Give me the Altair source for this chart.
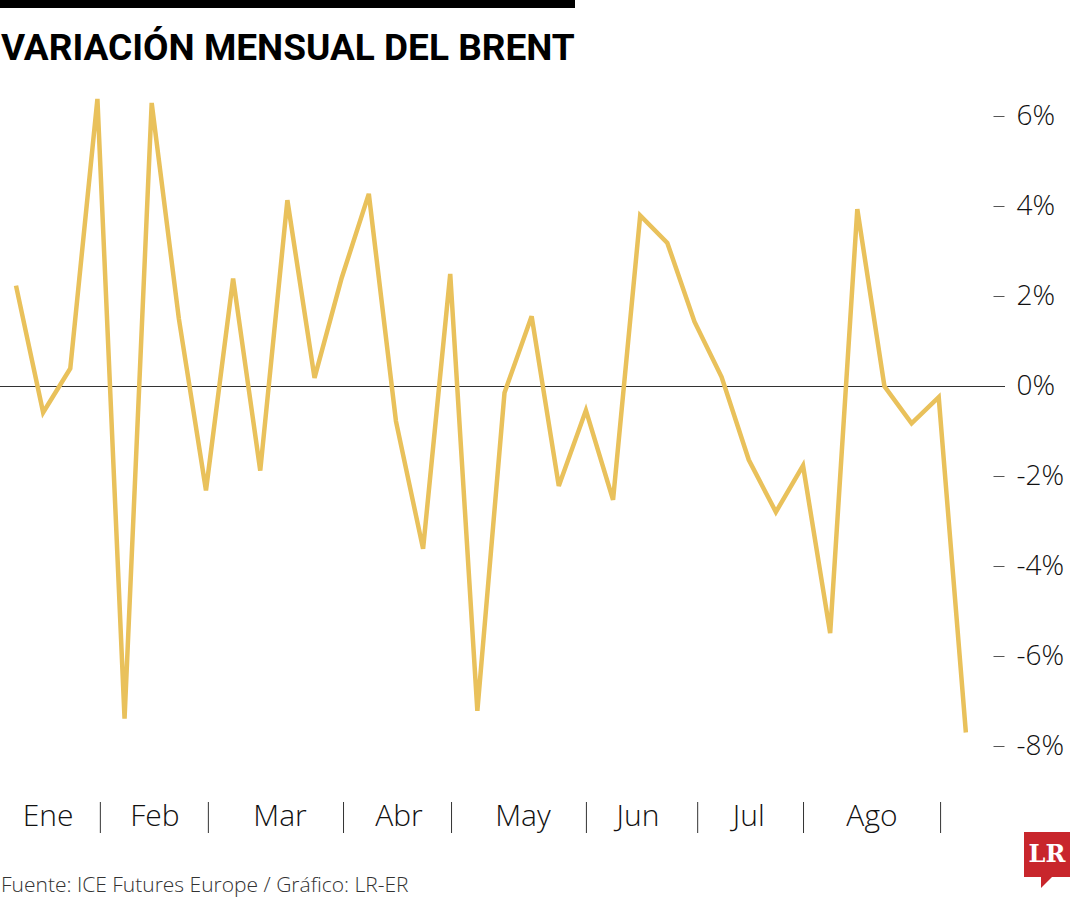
import altair as alt
import pandas as pd

# Weekly Brent change (%)
values = [2.23, -0.59, 0.39, 6.38, -7.39, 6.29, 1.5, -2.32, 2.39, -1.88, 4.13, 0.18,
          2.4, 4.27, -0.78, -3.62, 2.49, -7.22, -0.15, 1.55, -2.22, -0.54, -2.53, 3.79,
          3.18, 1.43, 0.2, -1.64, -2.8, -1.77, -5.49, 3.93, -0.01, -0.83, -0.25, -7.70]
weeks = list(range(len(values)))

months = ["Ene", "Feb", "Mar", "Abr", "May", "Jun", "Jul", "Ago"]
month_label_at = [1.18, 5.12, 9.73, 14.11, 18.68, 22.92, 27.0, 31.54]
month_sep_at = [3.09, 7.07, 12.05, 16.03, 21.0, 25.1, 29.0, 34.05]
y_ticks = [-8, -6, -4, -2, 0, 2, 4, 6]

title_text = "VARIACIÓN MENSUAL DEL BRENT"
source_text = "Fuente: ICE Futures Europe / Gráfico: LR-ER"

df = pd.DataFrame({"week": weeks, "value": values})
df_months = pd.DataFrame({"pos": month_label_at, "label": months})
df_seps = pd.DataFrame({"pos": month_sep_at})
df_zero = pd.DataFrame({"value": [0]})
df_title = pd.DataFrame({"t": [title_text]})
df_source = pd.DataFrame({"t": [source_text]})
df_logo = pd.DataFrame({"t": ["LR"]})

W, H = 993, 720
xscale = alt.Scale(domain=[-0.5895, 36.0], nice=False, zero=False)
yscale = alt.Scale(domain=[-9, 7], nice=False, zero=False)
yaxis = alt.Axis(
    orient="right", values=y_ticks, labelExpr="datum.value + '%'",
    domain=False, grid=False, tickSize=11, tickColor="#555", tickWidth=1,
    labelPadding=12, labelFontSize=28, labelFont="Open Sans", labelFontWeight=300,
    labelColor="#111", labelAlign="left", labelBaseline="middle", title=None)

line = alt.Chart(df).mark_line(color="#E9C15B", strokeWidth=4.5).encode(
    x=alt.X("week:Q", scale=xscale, axis=None),
    y=alt.Y("value:Q", scale=yscale, axis=yaxis),
)

zero = alt.Chart(df_zero).mark_rule(color="#333", strokeWidth=1, yOffset=0.5).encode(
    y=alt.Y("value:Q", scale=yscale, axis=yaxis), x=alt.value(0), x2=alt.value(1005))

month_text = alt.Chart(df_months).mark_text(
    font="Open Sans", fontSize=30, fontWeight=300, color="#111", baseline="middle", align="center"
).encode(x=alt.X("pos:Q", scale=xscale, axis=None), y=alt.value(746), text="label:N")

seps = alt.Chart(df_seps).mark_rule(color="#333", strokeWidth=1, xOffset=0.5).encode(
    x=alt.X("pos:Q", scale=xscale, axis=None), y=alt.value(731), y2=alt.value(762))

bar = alt.Chart(df_title).mark_rect(color="#000").encode(
    x=alt.value(0), x2=alt.value(575), y=alt.value(-71), y2=alt.value(-63))

title = alt.Chart(df_title).mark_text(
    font="Roboto", fontSize=37, fontWeight="bold", color="#000", align="left", baseline="alphabetic"
).encode(x=alt.value(1), y=alt.value(-11), text="t:N")

footer = alt.Chart(df_source).mark_text(
    font="Open Sans", fontSize=21, fontWeight=300, color="#333", align="left", baseline="middle"
).encode(x=alt.value(1), y=alt.value(815), text="t:N")

logo_box = alt.Chart(df_logo).mark_rect(color="#C8262C").encode(
    x=alt.value(1024), x2=alt.value(1070), y=alt.value(761), y2=alt.value(806))
logo_tail = alt.Chart(df_logo).mark_point(
    shape="M -1 -1 L 1 -1 L -1 1 Z", filled=True, color="#C8262C", opacity=1, size=144
).encode(x=alt.value(1047), y=alt.value(811))
logo_text = alt.Chart(df_logo).mark_text(
    font="DejaVu Serif", fontSize=24, fontWeight="bold", color="#fff", align="center", baseline="middle"
).encode(x=alt.value(1047), y=alt.value(784), text="t:N")

chart = alt.layer(zero, seps, line, month_text, bar, title, footer, logo_box, logo_tail, logo_text).properties(
    width=W, height=H,
    autosize=alt.AutoSizeParams(type="none"),
    padding={"left": 0, "top": 71, "right": 87, "bottom": 109},
).configure_view(stroke=None)

chart.save("out.html", embed_options={"renderer": "svg", "actions": False})
